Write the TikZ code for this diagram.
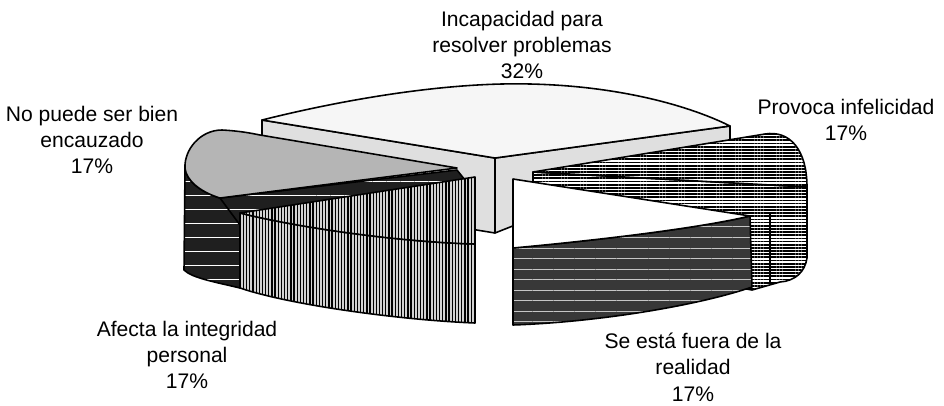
\documentclass[tikz,border=0pt]{standalone}
\usepackage{fontspec}
\setmainfont{Liberation Sans}
\usetikzlibrary{patterns.meta}
\begin{document}
\begin{tikzpicture}[x=0.02cm,y=-0.02cm,line width=0.9pt,line join=round,
  lbl/.style={align=center,anchor=north,inner sep=0pt,font=\fontsize{12}{15}\selectfont},
  atop/.style={draw,fill=gray!7},
  aside/.style={draw,fill=gray!25},
  etop/.style={draw,preaction={fill=white},pattern={Lines[angle=0,distance=1.8pt,line width=1pt]}},
  btop/.style={draw,fill=gray!58},
  bside/.style={draw,preaction={fill=black!88},pattern={Lines[angle=0,distance=8pt,line width=0.35pt]},pattern color=white},
  cface/.style={draw,preaction={fill=gray!35},pattern={Lines[angle=90,distance=1.8pt,line width=0.75pt]}},
  dtop/.style={draw,fill=white},
  dside/.style={draw,preaction={fill=black!78},pattern={Lines[angle=0,distance=6pt,line width=0.35pt]},pattern color=gray!45}]
\useasboundingbox (0,0) rectangle (944,406);
% A: Incapacidad (back)
\path[aside] (262,120) -- (495,158) -- (495,233) -- (262,195) -- cycle;
\path[aside] (495,158) -- (730,126) -- (730,140) -- (495,233) -- cycle;
\path[atop] (262,120) .. controls (350,98) and (450,82) .. (530,84)
  .. controls (620,86) and (690,106) .. (730,126) -- (495,158) -- cycle;
% E: Provoca infelicidad (right)
\path[etop] (533,172) -- (807,187) -- (807,258) .. controls (805,272) and (795,281) .. (780,282)
  -- (752,290) -- (533,250) -- cycle;
\draw (770,212) -- (770,282);
\path[etop] (533,172) -- (765,134) .. controls (790,130) and (807,150) .. (807,187) -- cycle;
% B: No puede ser bien encauzado (left)
\path[bside] (185,168) .. controls (186,180) and (200,192) .. (220,198) -- (240,215) -- (240,288)
  .. controls (215,282) and (192,278) .. (184,270) -- cycle;
\path[bside] (220,198) -- (457,170) -- (465,180) -- (240,225) -- cycle;
\path[btop] (260,135) -- (457,168) -- (220,198) .. controls (200,192) and (186,180) .. (185,168)
  .. controls (184,150) and (200,130) .. (222,130) .. controls (240,131) and (250,133) .. (260,135) -- cycle;
% C: Afecta la integridad personal (front left)
\path[cface] (240,213) .. controls (300,228) and (400,242) .. (475,244) -- (475,323)
  .. controls (400,320) and (290,305) .. (240,288) -- cycle;
\path[cface] (240,213) -- (475,177) -- (475,244) .. controls (400,242) and (300,228) .. (240,213) -- cycle;
% D: Se esta fuera de la realidad (front right)
\path[dside] (513,248) .. controls (600,240) and (700,228) .. (750,216) -- (752,287)
  .. controls (700,305) and (600,322) .. (513,325) -- cycle;
\path[dtop] (513,179) -- (750,216) .. controls (700,228) and (600,240) .. (513,248) -- cycle;
% labels
\node[lbl] (lA) at (522,10) {Incapacidad para\\resolver problemas\\32\%};
\node[lbl] (lB) at (92,105) {No puede ser bien\\encauzado\\17\%};
\node[lbl] (lE) at (846,98) {Provoca infelicidad\\17\%};
\node[lbl] (lC) at (187,320) {Afecta la integridad\\personal\\17\%};
\node[lbl] (lD) at (693,332) {Se está fuera de la\\realidad\\17\%};
\end{tikzpicture}
\end{document}
